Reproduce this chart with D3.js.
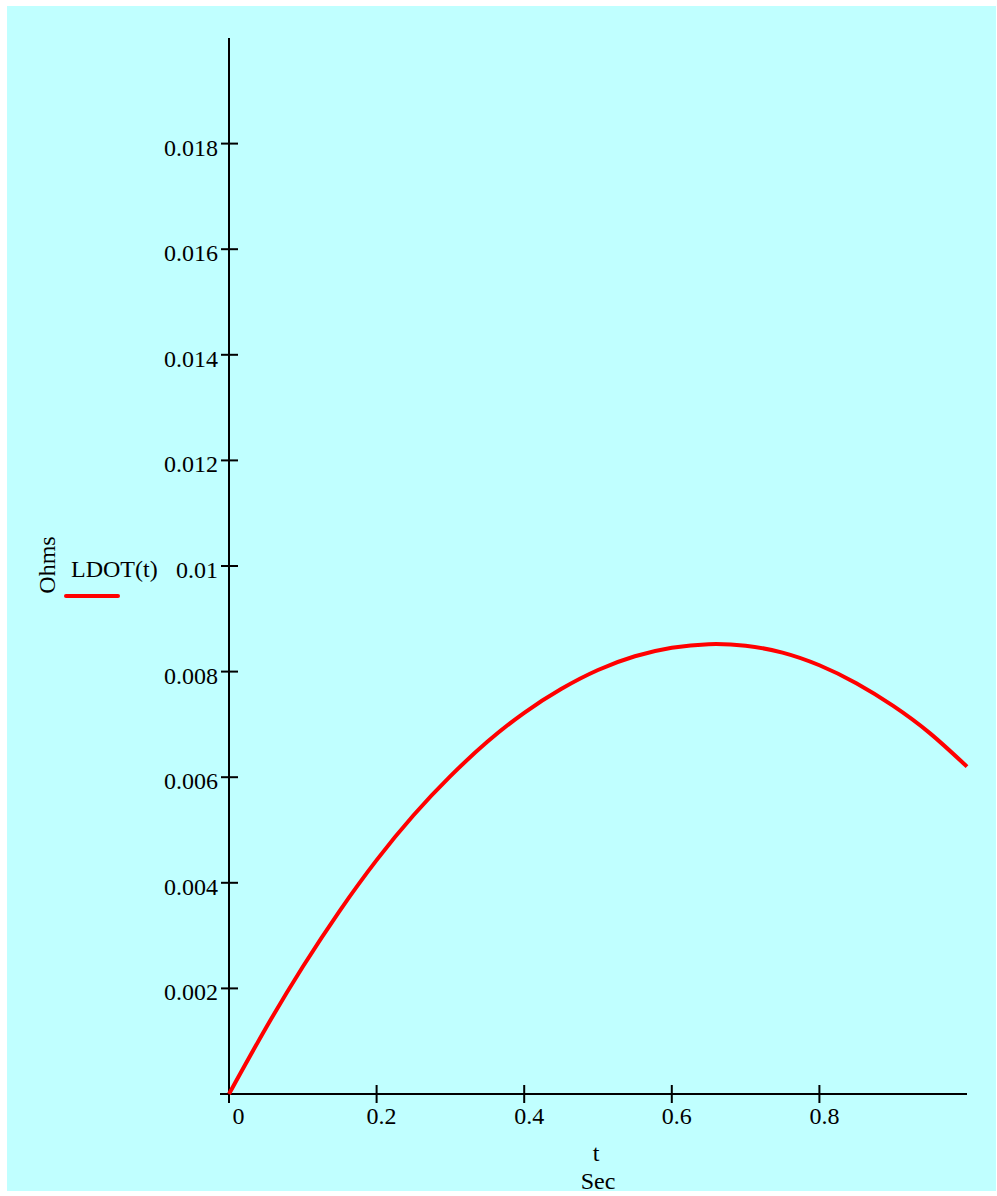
<!DOCTYPE html>
<html>
<head>
<meta charset="utf-8">
<script src="https://cdn.jsdelivr.net/npm/d3@7"></script>
<style>
  html, body { margin: 0; padding: 0; background: #ffffff; }
  svg { display: block; }
  text { font-family: "Liberation Serif", "Times New Roman", serif; fill: #000; }
</style>
</head>
<body>
<svg id="chart" width="997" height="1196"></svg>
<script>
// Time samples (s) and LDOT(t) values (Ohms)
const tValues = [0, 0.05, 0.1, 0.15, 0.2, 0.25, 0.3, 0.35, 0.4, 0.45, 0.5,
                 0.55, 0.6, 0.65, 0.7, 0.75, 0.8, 0.85, 0.9, 0.95, 1.0];
const ldotValues = [0, 0.00125, 0.00241, 0.00347, 0.00443, 0.00528, 0.00602,
                    0.00667, 0.00722, 0.00767, 0.00803, 0.00829, 0.00845,
                    0.00852, 0.00849, 0.00836, 0.00812, 0.00778, 0.00735,
                    0.00683, 0.00620];

// Axis ticks and labels
const xTicks = [0, 0.2, 0.4, 0.6, 0.8];
const xTickLabels = ["0", "0.2", "0.4", "0.6", "0.8"];
const yTicks = [0, 0.002, 0.004, 0.006, 0.008, 0.01, 0.012, 0.014, 0.016, 0.018];
const yTickLabels = ["", "0.002", "0.004", "0.006", "0.008", "0.01", "0.012", "0.014", "0.016", "0.018"];
const xDomain = [0, 1];
const yDomain = [0, 0.02];
const seriesName = "LDOT(t)";
const xTitle = ["t", "Sec"];
const yTitle = "Ohms";

const svg = d3.select("#chart");

// Plot background
svg.append("rect")
  .attr("x", 7).attr("y", 6)
  .attr("width", 989).attr("height", 1185)
  .attr("fill", "#c0ffff");

const x = d3.scaleLinear().domain(xDomain).range([229, 967]);
const y = d3.scaleLinear().domain(yDomain).range([1094, 38]);

const g = svg.append("g");

// Axis lines
g.append("line")
  .attr("x1", x(xDomain[0]) - 9).attr("x2", x(xDomain[1]))
  .attr("y1", y(0)).attr("y2", y(0))
  .attr("stroke", "#000").attr("stroke-width", 2);
g.append("line")
  .attr("x1", x(0)).attr("x2", x(0))
  .attr("y1", y(yDomain[1])).attr("y2", y(0) + 9)
  .attr("stroke", "#000").attr("stroke-width", 2);

// Y ticks crossing the axis
g.selectAll(".ytick")
  .data(yTicks.slice(1))
  .join("line")
  .attr("class", "ytick")
  .attr("x1", x(0) - 8).attr("x2", x(0) + 9)
  .attr("y1", d => y(d)).attr("y2", d => y(d))
  .attr("stroke", "#000").attr("stroke-width", 2);

g.selectAll(".ylabel")
  .data(yTicks.map((d, i) => ({ v: d, label: yTickLabels[i] })).filter(d => d.label))
  .join("text")
  .attr("class", "ylabel")
  .attr("x", x(0) - 11)
  .attr("y", d => y(d.v) + 12)
  .attr("text-anchor", "end")
  .attr("font-size", 24)
  .text(d => d.label);

// X ticks crossing the axis
g.selectAll(".xtick")
  .data(xTicks.slice(1))
  .join("line")
  .attr("class", "xtick")
  .attr("x1", d => x(d)).attr("x2", d => x(d))
  .attr("y1", y(0) - 9).attr("y2", y(0) + 9)
  .attr("stroke", "#000").attr("stroke-width", 2);

g.selectAll(".xlabel")
  .data(xTicks.map((d, i) => ({ v: d, label: xTickLabels[i] })))
  .join("text")
  .attr("class", "xlabel")
  .attr("x", d => x(d.v) + (d.v === 0 ? 9.5 : 5))
  .attr("y", y(0) + 30)
  .attr("text-anchor", "middle")
  .attr("font-size", 24)
  .text(d => d.label);

// Axis titles
const xMid = (x(xDomain[0]) + x(xDomain[1])) / 2;
g.append("text")
  .attr("x", xMid - 2).attr("y", 1161)
  .attr("text-anchor", "middle").attr("font-size", 24)
  .text(xTitle[0]);
g.append("text")
  .attr("x", xMid).attr("y", 1189)
  .attr("text-anchor", "middle").attr("font-size", 24)
  .text(xTitle[1]);

g.append("text")
  .attr("transform", "translate(55,565) rotate(-90)")
  .attr("text-anchor", "middle").attr("font-size", 24)
  .text(yTitle);

// Legend
g.append("text")
  .attr("x", 71).attr("y", 577)
  .attr("font-size", 24)
  .text(seriesName);
g.append("line")
  .attr("x1", 66).attr("x2", 118)
  .attr("y1", 596).attr("y2", 596)
  .attr("stroke", "#ff0000").attr("stroke-width", 4)
  .attr("stroke-linecap", "round");

// Series curve
const pts = tValues.map((t, i) => [t, ldotValues[i]]);
const line = d3.line()
  .x(d => x(d[0]))
  .y(d => y(d[1]))
  .curve(d3.curveNatural);

g.append("path")
  .datum(pts)
  .attr("d", line)
  .attr("fill", "none")
  .attr("stroke", "#ff0000")
  .attr("stroke-width", 4);
</script>
</body>
</html>
